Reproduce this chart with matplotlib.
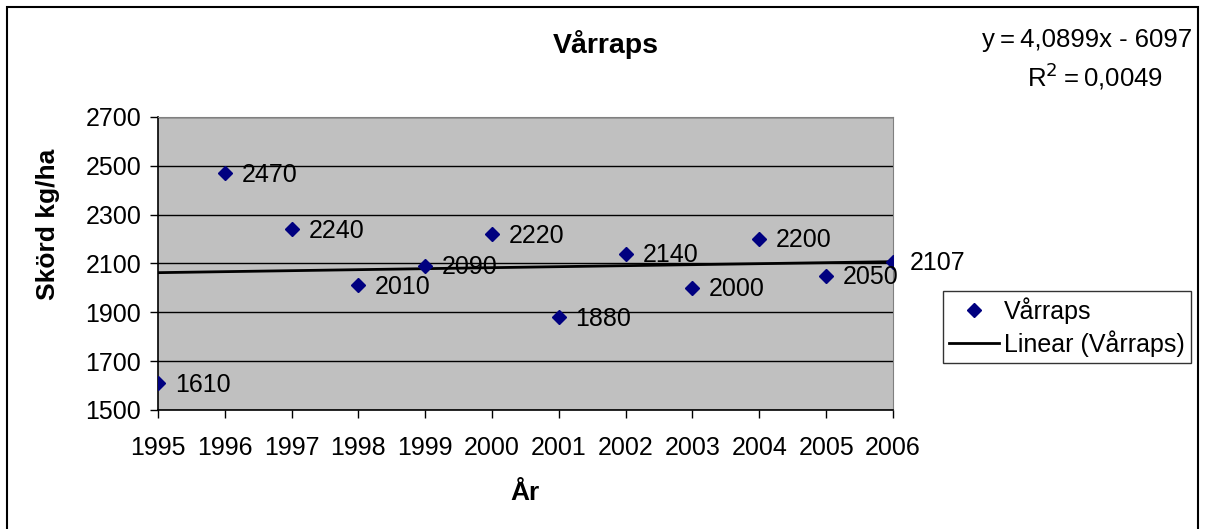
import matplotlib.pyplot as plt
from matplotlib.patches import Rectangle

plt.rcParams['font.family'] = ['Liberation Sans', 'DejaVu Sans']

years = [1995, 1996, 1997, 1998, 1999, 2000, 2001, 2002, 2003, 2004, 2005, 2006]
skord = [1610, 2470, 2240, 2010, 2090, 2220, 1880, 2140, 2000, 2200, 2050, 2107]
slope = 4.0899
intercept = -6097

fig = plt.figure(figsize=(12.07, 5.29), dpi=100)
ax = fig.add_axes([0.1309, 0.2250, 0.6089, 0.5539])
ax.set_facecolor('#C0C0C0')

# outer chart border
fig.patches.append(Rectangle((7 / 1207, -0.01), 1191 / 1207, 1 - 7 / 529 + 0.01,
                             transform=fig.transFigure, fill=False,
                             edgecolor='black', linewidth=1.5))

ax.plot(years, skord, linestyle='none', marker='D', markersize=7,
        color='#000080', label='Vårraps', zorder=3)
trend = [slope * y + intercept for y in [years[0], years[-1]]]
ax.plot([years[0], years[-1]], trend, color='black', linewidth=2,
        label='Linear (Vårraps)', zorder=2)

for x, v in zip(years, skord):
    ax.annotate(str(v), (x, v), xytext=(12, -1), textcoords='offset points',
                va='center', ha='left', fontsize=18, zorder=4)

ax.set_xlim(1995, 2006)
ax.set_ylim(1500, 2700)
ax.set_xticks(years)
ax.set_yticks(range(1500, 2701, 200))
ax.tick_params(labelsize=18, direction='out', length=6, width=1)
ax.tick_params(axis='x', pad=13)
ax.tick_params(axis='y', pad=6)
ax.yaxis.grid(True, color='black', linewidth=1)
ax.set_axisbelow(True)
for s in ['top', 'right']:
    ax.spines[s].set_color('#808080')
for s in ['left', 'bottom']:
    ax.spines[s].set_linewidth(1.2)

ax.set_xlabel('År', fontsize=19, fontweight='bold', labelpad=15)
fig.text(0.040, 0.575, 'Skörd kg/ha', rotation=90, fontsize=19,
         fontweight='bold', ha='center', va='center')
fig.text(0.502, 0.915, 'Vårraps', fontsize=20.5, fontweight='bold',
         ha='center', va='center')

fig.text(0.988, 0.925, 'y\u2009=\u20094,0899x - 6097', fontsize=18.5,
         ha='right', va='center')
fig.text(0.907, 0.855, 'R$^2$\u2009=\u20090,0049', fontsize=18.5,
         ha='center', va='center')

leg = ax.legend(loc='upper left', bbox_to_anchor=(943 / 1207, 1 - 291 / 529),
                bbox_transform=fig.transFigure, fontsize=18, frameon=True,
                fancybox=False, edgecolor='black', borderpad=0.25,
                handlelength=2.0, handletextpad=0.2, labelspacing=0.25,
                borderaxespad=0)
leg.get_frame().set_linewidth(1)

fig.savefig('out.png', dpi=100)
